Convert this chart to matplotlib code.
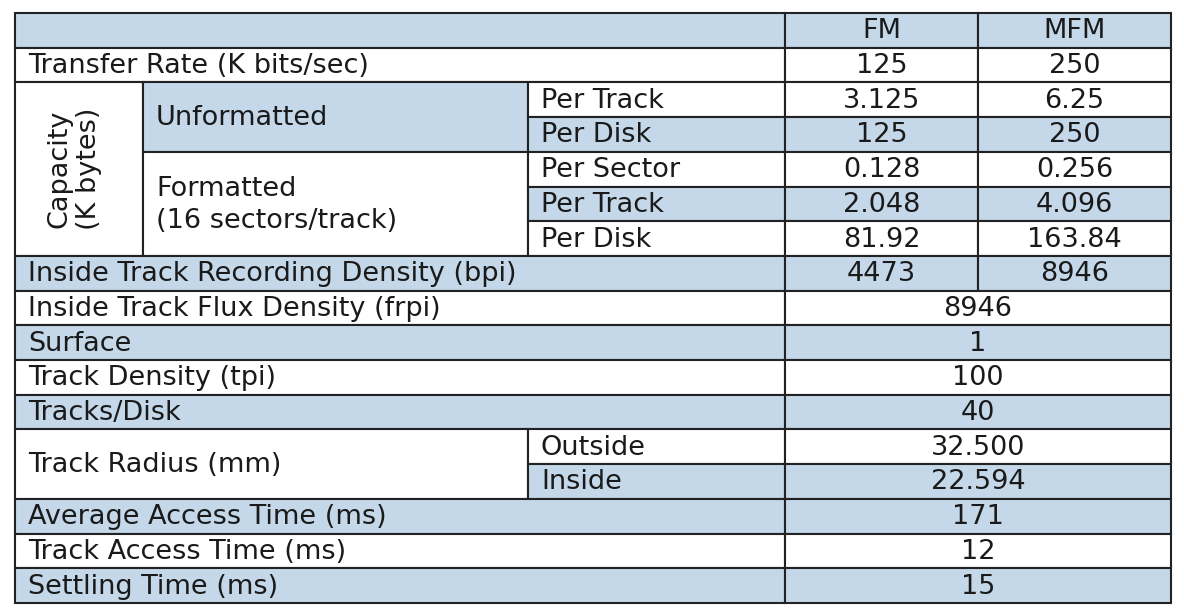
import matplotlib
matplotlib.use("Agg")
import matplotlib.pyplot as plt
from matplotlib.patches import Rectangle

cols = ["FM", "MFM"]
transfer = ["125", "250"]
unf_labels = ["Per Track", "Per Disk"]
unf_vals = [["3.125", "6.25"], ["125", "250"]]
fmt_labels = ["Per Sector", "Per Track", "Per Disk"]
fmt_vals = [["0.128", "0.256"], ["2.048", "4.096"], ["81.92", "163.84"]]
rec_density = ["4473", "8946"]
single_labels = ["Inside Track Flux Density (frpi)", "Surface", "Track Density (tpi)", "Tracks/Disk"]
single_vals = ["8946", "1", "100", "40"]
radius_labels = ["Outside", "Inside"]
radius_vals = ["32.500", "22.594"]
time_labels = ["Average Access Time (ms)", "Track Access Time (ms)", "Settling Time (ms)"]
time_vals = ["171", "12", "15"]

BLUE = "#c4d8e9"
X0, X1, X2, X3, X4, X5 = 15, 143, 528, 785, 978, 1171
Y0, RH = 13, 34.7
FS = 19.5
FAM = ["DejaVu Sans"]

fig = plt.figure(figsize=(11.84, 6.12), dpi=100)
ax = fig.add_axes([0, 0, 1, 1])
ax.set_xlim(0, 1184); ax.set_ylim(612, 0); ax.axis("off")

def y(r): return Y0 + r * RH

def cell(x0, x1, r0, r1, fill, text=None, align="left", **kw):
    ax.add_patch(Rectangle((x0, y(r0)), x1 - x0, y(r1) - y(r0), facecolor=BLUE if fill else "white",
                           edgecolor="#222222", lw=1.5))
    if text is not None:
        if align == "center":
            ax.text((x0 + x1) / 2, (y(r0) + y(r1)) / 2 + 1, text, ha="center", va="center", fontsize=FS, family=FAM, color="#1a1a1a", **kw)
        else:
            ax.text(x0 + 13, (y(r0) + y(r1)) / 2 + 1, text, ha="left", va="center", fontsize=FS, family=FAM, color="#1a1a1a", **kw)

# header
cell(X0, X3, 0, 1, True)
cell(X3, X4, 0, 1, True, cols[0], "center")
cell(X4, X5, 0, 1, True, cols[1], "center")
# transfer
cell(X0, X3, 1, 2, False, "Transfer Rate (K bits/sec)")
cell(X3, X4, 1, 2, False, transfer[0], "center")
cell(X4, X5, 1, 2, False, transfer[1], "center")
# capacity
cell(X0, X1, 2, 7, False)
ax.text((X0 + X1) / 2 - 5, (y(2) + y(7)) / 2, "Capacity\n(K bytes)", rotation=90, ha="center", va="center",
        fontsize=FS, family=FAM, color="#1a1a1a", linespacing=1.15)
cell(X1, X2, 2, 4, True, "Unformatted")
cell(X1, X2, 4, 7, False, "Formatted\n(16 sectors/track)", linespacing=1.3)
r = 2
fills = [False, True, False, True, False]
for lab, v in zip(unf_labels + fmt_labels, unf_vals + fmt_vals):
    f = fills[r - 2]
    cell(X2, X3, r, r + 1, f, lab)
    cell(X3, X4, r, r + 1, f, v[0], "center")
    cell(X4, X5, r, r + 1, f, v[1], "center")
    r += 1
# recording density
cell(X0, X3, 7, 8, True, "Inside Track Recording Density (bpi)")
cell(X3, X4, 7, 8, True, rec_density[0], "center")
cell(X4, X5, 7, 8, True, rec_density[1], "center")
r = 8
for i, (lab, v) in enumerate(zip(single_labels, single_vals)):
    f = i % 2 == 1
    cell(X0, X3, r, r + 1, f, lab)
    cell(X3, X5, r, r + 1, f, v, "center")
    r += 1
# radius
cell(X0, X2, 12, 14, False, "Track Radius (mm)")
for i, (lab, v) in enumerate(zip(radius_labels, radius_vals)):
    f = i == 1
    cell(X2, X3, 12 + i, 13 + i, f, lab)
    cell(X3, X5, 12 + i, 13 + i, f, v, "center")
r = 14
for i, (lab, v) in enumerate(zip(time_labels, time_vals)):
    f = i % 2 == 0
    cell(X0, X3, r, r + 1, f, lab)
    cell(X3, X5, r, r + 1, f, v, "center")
    r += 1

fig.savefig("out.png", dpi=100)
